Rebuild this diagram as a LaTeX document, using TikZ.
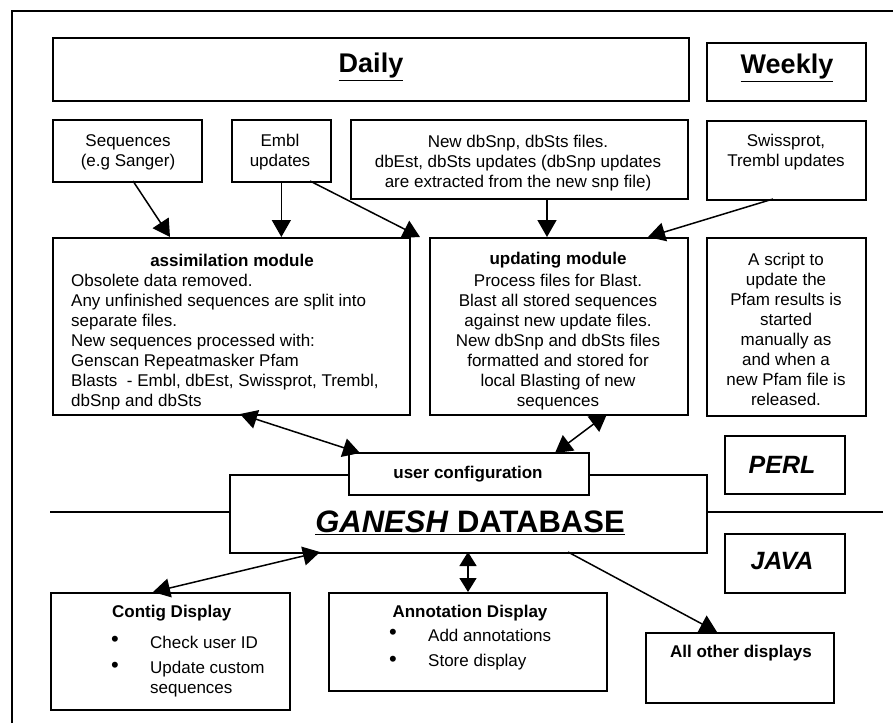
\documentclass[tikz,border=0pt]{standalone}
\usepackage{fontspec}
\setmainfont{Liberation Sans}
\usetikzlibrary{arrows.meta}
\begin{document}
\begin{tikzpicture}[x=1pt,y=-1pt,
  box/.style={draw=black,line width=1.7pt,inner sep=0pt,anchor=north west},
  txt/.style={inner sep=0pt,font=\fontsize{17}{20}\selectfont},
  con/.style={line width=1.5pt,-{Triangle[length=17pt,width=19pt]}},
  bicon/.style={line width=1.5pt,{Triangle[length=17pt,width=19pt]}-{Triangle[length=17pt,width=19pt]}},
  rule/.style={line width=1.3pt}]
\useasboundingbox (0,0) rectangle (893,723);
\fill[white] (0,0) rectangle (893,723);
% outer frame (top and left only)
\coordinate (fbl) at (12,723);
\coordinate (ftl) at (12,11);
\coordinate (ftr) at (893,11);
\draw[line width=1.7pt] (fbl) -- (ftl) -- (ftr);

% helper macro for boxes by corners
\newcommand{\mybox}[5]{\node[box,minimum width=#4-#2,minimum height=#5-#3] (#1) at (#2,#3) {};}
\mybox{daily}{52}{37}{688}{100}
\mybox{weekly}{706}{42}{865}{100}
\mybox{seq}{52}{119}{201}{181}
\mybox{embl}{231}{119}{330}{181}
\mybox{newdb}{350}{119}{687}{198}
\mybox{swiss}{706}{120}{865}{199}
\mybox{assim}{52}{237}{409}{414}
\mybox{upd}{429}{237}{687}{414}
\mybox{script}{706}{237}{865}{415}
\mybox{perl}{724}{435}{844}{493}
\mybox{java}{724}{533}{844}{592}
\mybox{ganesh}{229}{474}{706}{552}
\mybox{ucfg}{349}{453}{587}{493}
\mybox{contig}{50}{592}{289}{709}
\mybox{annot}{328}{592}{606}{690}
\mybox{other}{645}{632}{833}{702}
\fill[white] ([xshift=-0.9pt,yshift=0.9pt]ucfg.south west) rectangle ([xshift=0.9pt,yshift=-0.9pt]ucfg.north east);
\draw[line width=1.7pt] (ucfg.south west) rectangle (ucfg.north east);

% separator lines
\coordinate (sl1) at (50,512);
\coordinate (sl2) at (883,512);
\draw[rule] (sl1) -- (ganesh.west |- sl1);
\draw[rule] (ganesh.east |- sl2) -- (sl2);

% texts
\node[txt,font=\fontsize{27}{30}\selectfont\bfseries] (tdaily) at (371,67) {\underline{Daily}};
\node[txt,font=\fontsize{27}{30}\selectfont\bfseries] (tweekly) at (787,68) {\underline{Weekly}};
\node[txt,align=center] (tseq) at (128,152) {Sequences\\(e.g Sanger)};
\node[txt,align=center] (tembl) at (280,152) {Embl\\updates};
\node[txt,align=center] (tnew) at (518,163) {New dbSnp, dbSts files.\\dbEst, dbSts updates (dbSnp updates\\are extracted from the new snp file)};
\node[txt,align=center] (tswiss) at (786,152) {Swissprot,\\Trembl updates};
\node[txt,font=\fontsize{17}{20}\selectfont\bfseries] (tassimh) at (232,260) {assimilation module};
\node[txt,align=left,anchor=north west] (tassim) at (71,274) {Obsolete data removed.\\Any unfinished sequences are split into\\separate files.\\New sequences processed with:\\Genscan Repeatmasker Pfam\\Blasts\ \ - Embl, dbEst, Swissprot, Trembl,\\dbSnp and dbSts};
\node[txt,font=\fontsize{17}{20}\selectfont\bfseries] (tupdh) at (558,260) {updating module};
\node[txt,align=center,anchor=north] (tupd) at (558,274) {Process files for Blast.\\Blast all stored sequences\\against new update files.\\New dbSnp and dbSts files\\formatted and stored for\\local Blasting of new\\sequences};
\node[txt,align=center,anchor=north] (tscript) at (786,253) {A script to\\update the\\Pfam results is\\started\\manually as\\and when a\\new Pfam file is\\released.};
\node[txt,font=\fontsize{25}{28}\selectfont\bfseries\itshape] (tperl) at (782,465) {PERL};
\node[txt,font=\fontsize{25}{28}\selectfont\bfseries\itshape] (tjava) at (782,561) {JAVA};
\node[txt,font=\fontsize{17}{20}\selectfont\bfseries] (tucfg) at (468,474) {user configuration};
\node[txt,font=\fontsize{31}{34}\selectfont\bfseries] (tgan) at (470,523) {\underline{\textit{GANESH} DATABASE}};
\node[txt,font=\fontsize{17}{20}\selectfont\bfseries,anchor=west] (tcontigh) at (112,613) {Contig Display};
\node[txt,anchor=center,font=\fontsize{22}{22}\selectfont] (b1) at (115,641) {•};
\node[txt,anchor=west] (c1) at (150,642) {Check user ID};
\node[txt,anchor=center,font=\fontsize{22}{22}\selectfont] (b2) at (115,667) {•};
\node[txt,anchor=north west,align=left] (c2) at (150,661) {Update custom\\sequences};
\node[txt,font=\fontsize{17}{20}\selectfont\bfseries] (tannoth) at (470,613) {Annotation Display};
\node[txt,anchor=center,font=\fontsize{22}{22}\selectfont] (b3) at (393,634) {•};
\node[txt,anchor=west] (a1) at (428,635) {Add annotations};
\node[txt,anchor=center,font=\fontsize{22}{22}\selectfont] (b4) at (393,661) {•};
\node[txt,anchor=west] (a2) at (428,662) {Store display};
\node[txt,font=\fontsize{17}{20}\selectfont\bfseries] (tother) at (741,653) {All other displays};

% connectors
\coordinate (e1) at (133,181);
\coordinate (e2) at (170,237);
\draw[con] (e1) -- (e2);
\draw[con] (embl.south) -- (embl.south |- assim.north);
\coordinate (e3) at (310,181);
\coordinate (e4) at (420,237);
\draw[con] (e3) -- (e4);
\coordinate (e5) at (547,198);
\draw[con] (e5) -- (e5 |- upd.north);
\coordinate (e6) at (773,199);
\coordinate (e7) at (648,237);
\draw[con] (e6) -- (e7);
\coordinate (e8) at (240,414);
\coordinate (e9) at (360,453);
\draw[bicon] (e8) -- (e9);
\coordinate (e10) at (607,414);
\coordinate (e11) at (555,453);
\draw[bicon] (e10) -- (e11);
\coordinate (e12) at (320,552);
\coordinate (e13) at (153,592);
\draw[bicon] (e12) -- (e13);
\coordinate (e14) at (468,552);
\coordinate (e15) at (468,592);
\draw[line width=1.5pt,{Triangle[length=14pt,width=17pt]}-{Triangle[length=14pt,width=17pt]}] (e14) -- (e15);
\coordinate (e16) at (568,552);
\coordinate (e17) at (717,632);
\draw[con] (e16) -- (e17);
\end{tikzpicture}
\end{document}
